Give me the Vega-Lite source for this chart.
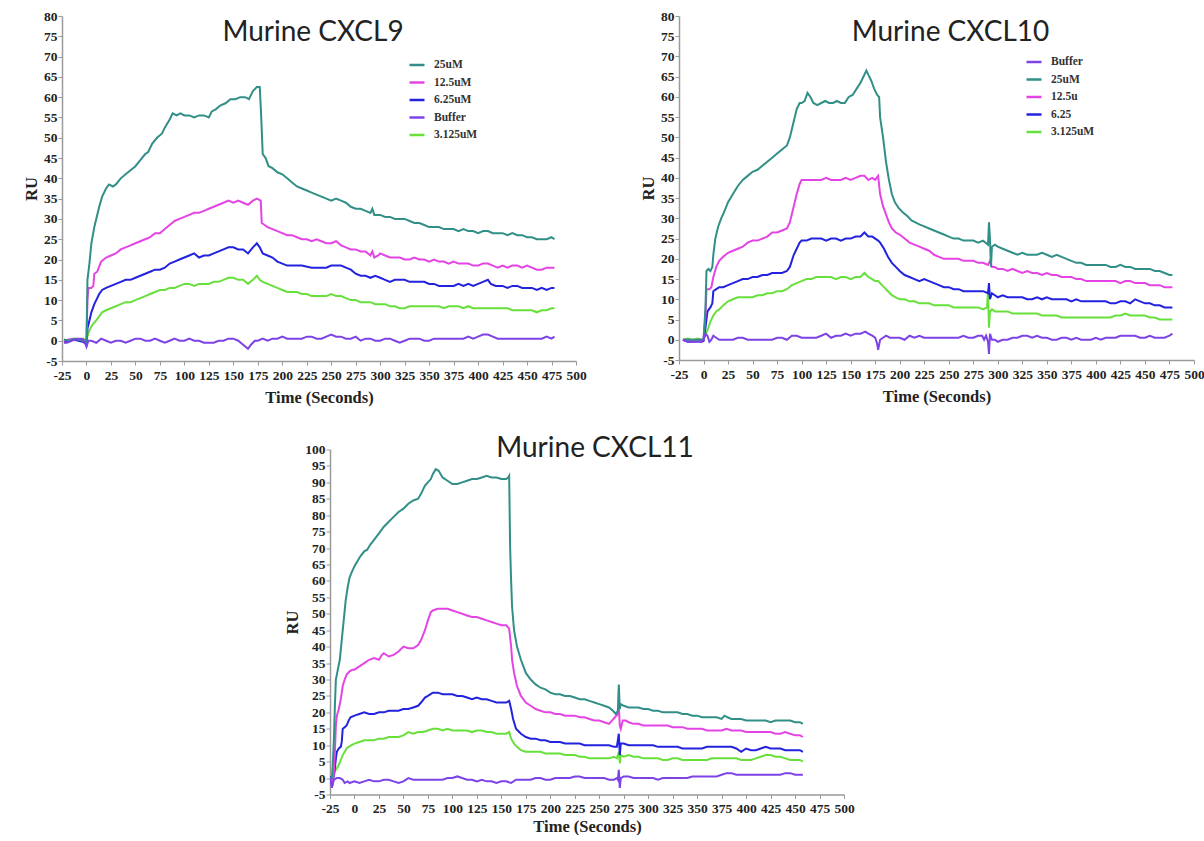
{
"$schema": "https://vega.github.io/schema/vega-lite/v6.json",
"background": "white",
"padding": {"left": 23, "top": 9, "right": 0, "bottom": 0},
"config": {
  "view": {"stroke": null},
  "axis": {"domainColor": "#9a9a9a", "domainWidth": 1.5, "tickColor": "#9a9a9a", "tickSize": 4, "tickWidth": 1, "grid": false,
    "labelFont": "Liberation Serif", "labelFontWeight": "bold", "labelFontSize": 13.5, "labelColor": "#222",
    "titleFont": "Liberation Serif", "titleFontWeight": "bold", "titleFontSize": 16.5, "titleColor": "#222",
    "labelOverlap": false, "labelFlush": false, "labelBound": false, "labelExpr": "'' + datum.value"},
  "axisY": {"labelPadding": 1, "titlePadding": 4},
  "axisX": {"labelPadding": 3, "titlePadding": 8, "labelAngle": 0},
  "title": {"font": "Lato", "fontSize": 28, "fontWeight": "normal", "color": "#222", "anchor": "middle", "frame": "group", "baseline": "alphabetic"},
  "legend": {"orient": "none", "symbolType": "stroke", "symbolSize": 225, "symbolStrokeWidth": 2.5, "labelFont": "Liberation Serif", "labelFontWeight": "bold", "labelFontSize": 11.5, "labelColor": "#333", "rowPadding": 2.5, "labelOffset": 8, "padding": 0}
},
"datasets": {
"c9": [
{"t":-23,"ru":-0.5,"s":"3.125uM"},{"t":-18,"ru":0,"s":"3.125uM"},{"t":-13,"ru":0.5,"s":"3.125uM"},{"t":-10,"ru":0.5,"s":"3.125uM"},{"t":-8,"ru":0,"s":"3.125uM"},{"t":-3,"ru":0.5,"s":"3.125uM"},{"t":0,"ru":0,"s":"3.125uM"},{"t":2,"ru":2,"s":"3.125uM"},{"t":5,"ru":3.5,"s":"3.125uM"},{"t":8,"ru":4.5,"s":"3.125uM"},{"t":10,"ru":5,"s":"3.125uM"},{"t":13,"ru":6,"s":"3.125uM"},{"t":16,"ru":7,"s":"3.125uM"},{"t":20,"ru":7.5,"s":"3.125uM"},{"t":25,"ru":8,"s":"3.125uM"},{"t":30,"ru":8.5,"s":"3.125uM"},{"t":35,"ru":9,"s":"3.125uM"},{"t":40,"ru":9.5,"s":"3.125uM"},{"t":45,"ru":9.5,"s":"3.125uM"},{"t":50,"ru":10,"s":"3.125uM"},{"t":55,"ru":10.5,"s":"3.125uM"},{"t":60,"ru":11,"s":"3.125uM"},{"t":65,"ru":11.5,"s":"3.125uM"},{"t":70,"ru":12,"s":"3.125uM"},{"t":75,"ru":12.5,"s":"3.125uM"},{"t":80,"ru":12.5,"s":"3.125uM"},{"t":85,"ru":13,"s":"3.125uM"},{"t":90,"ru":13,"s":"3.125uM"},{"t":95,"ru":13.5,"s":"3.125uM"},{"t":100,"ru":14,"s":"3.125uM"},{"t":105,"ru":14,"s":"3.125uM"},{"t":110,"ru":13.5,"s":"3.125uM"},{"t":115,"ru":14,"s":"3.125uM"},{"t":120,"ru":14,"s":"3.125uM"},{"t":125,"ru":14,"s":"3.125uM"},{"t":130,"ru":14.5,"s":"3.125uM"},{"t":135,"ru":14.5,"s":"3.125uM"},{"t":140,"ru":15,"s":"3.125uM"},{"t":145,"ru":15.5,"s":"3.125uM"},{"t":150,"ru":15.5,"s":"3.125uM"},{"t":155,"ru":15,"s":"3.125uM"},{"t":160,"ru":15,"s":"3.125uM"},{"t":165,"ru":14,"s":"3.125uM"},{"t":170,"ru":15,"s":"3.125uM"},{"t":174,"ru":16,"s":"3.125uM"},{"t":177,"ru":15,"s":"3.125uM"},{"t":180,"ru":14.5,"s":"3.125uM"},{"t":185,"ru":14,"s":"3.125uM"},{"t":190,"ru":13.5,"s":"3.125uM"},{"t":195,"ru":13,"s":"3.125uM"},{"t":200,"ru":12.5,"s":"3.125uM"},{"t":205,"ru":12,"s":"3.125uM"},{"t":210,"ru":12,"s":"3.125uM"},{"t":215,"ru":12,"s":"3.125uM"},{"t":220,"ru":11.5,"s":"3.125uM"},{"t":225,"ru":11.5,"s":"3.125uM"},{"t":230,"ru":11,"s":"3.125uM"},{"t":235,"ru":11,"s":"3.125uM"},{"t":240,"ru":11,"s":"3.125uM"},{"t":245,"ru":11,"s":"3.125uM"},{"t":250,"ru":11.5,"s":"3.125uM"},{"t":255,"ru":11,"s":"3.125uM"},{"t":260,"ru":11,"s":"3.125uM"},{"t":265,"ru":10.5,"s":"3.125uM"},{"t":270,"ru":10,"s":"3.125uM"},{"t":275,"ru":10,"s":"3.125uM"},{"t":280,"ru":9.5,"s":"3.125uM"},{"t":285,"ru":9.5,"s":"3.125uM"},{"t":290,"ru":9.5,"s":"3.125uM"},{"t":295,"ru":9,"s":"3.125uM"},{"t":300,"ru":9,"s":"3.125uM"},{"t":305,"ru":9,"s":"3.125uM"},{"t":310,"ru":8.5,"s":"3.125uM"},{"t":315,"ru":8.5,"s":"3.125uM"},{"t":320,"ru":8,"s":"3.125uM"},{"t":325,"ru":8,"s":"3.125uM"},{"t":330,"ru":8.5,"s":"3.125uM"},{"t":335,"ru":8.5,"s":"3.125uM"},{"t":340,"ru":8.5,"s":"3.125uM"},{"t":345,"ru":8.5,"s":"3.125uM"},{"t":350,"ru":8.5,"s":"3.125uM"},{"t":355,"ru":8.5,"s":"3.125uM"},{"t":360,"ru":8.5,"s":"3.125uM"},{"t":365,"ru":8,"s":"3.125uM"},{"t":370,"ru":8.5,"s":"3.125uM"},{"t":375,"ru":8.5,"s":"3.125uM"},{"t":380,"ru":8.5,"s":"3.125uM"},{"t":385,"ru":8,"s":"3.125uM"},{"t":390,"ru":8.5,"s":"3.125uM"},{"t":395,"ru":8,"s":"3.125uM"},{"t":400,"ru":8,"s":"3.125uM"},{"t":410,"ru":8,"s":"3.125uM"},{"t":420,"ru":8,"s":"3.125uM"},{"t":430,"ru":8,"s":"3.125uM"},{"t":435,"ru":7.5,"s":"3.125uM"},{"t":440,"ru":7.5,"s":"3.125uM"},{"t":450,"ru":7.5,"s":"3.125uM"},{"t":455,"ru":7.5,"s":"3.125uM"},{"t":460,"ru":7,"s":"3.125uM"},{"t":465,"ru":7.5,"s":"3.125uM"},{"t":470,"ru":7.5,"s":"3.125uM"},{"t":475,"ru":8,"s":"3.125uM"},{"t":478,"ru":8,"s":"3.125uM"},

{"t":-23,"ru":-0.3,"s":"6.25uM"},{"t":-18,"ru":0,"s":"6.25uM"},{"t":-13,"ru":0.3,"s":"6.25uM"},{"t":-8,"ru":0,"s":"6.25uM"},{"t":-3,"ru":-0.3,"s":"6.25uM"},{"t":0,"ru":-1,"s":"6.25uM"},{"t":1,"ru":3,"s":"6.25uM"},{"t":3,"ru":5,"s":"6.25uM"},{"t":5,"ru":7,"s":"6.25uM"},{"t":8,"ru":9,"s":"6.25uM"},{"t":10,"ru":10,"s":"6.25uM"},{"t":13,"ru":11.5,"s":"6.25uM"},{"t":16,"ru":12.5,"s":"6.25uM"},{"t":20,"ru":13,"s":"6.25uM"},{"t":25,"ru":13.5,"s":"6.25uM"},{"t":30,"ru":14,"s":"6.25uM"},{"t":35,"ru":14.5,"s":"6.25uM"},{"t":40,"ru":15,"s":"6.25uM"},{"t":45,"ru":15,"s":"6.25uM"},{"t":50,"ru":15.5,"s":"6.25uM"},{"t":55,"ru":16,"s":"6.25uM"},{"t":60,"ru":16.5,"s":"6.25uM"},{"t":65,"ru":17,"s":"6.25uM"},{"t":70,"ru":17.5,"s":"6.25uM"},{"t":75,"ru":17.5,"s":"6.25uM"},{"t":80,"ru":18,"s":"6.25uM"},{"t":85,"ru":19,"s":"6.25uM"},{"t":90,"ru":19.5,"s":"6.25uM"},{"t":95,"ru":20,"s":"6.25uM"},{"t":100,"ru":20.5,"s":"6.25uM"},{"t":105,"ru":21,"s":"6.25uM"},{"t":110,"ru":21.5,"s":"6.25uM"},{"t":115,"ru":20.5,"s":"6.25uM"},{"t":120,"ru":21,"s":"6.25uM"},{"t":125,"ru":21,"s":"6.25uM"},{"t":130,"ru":21.5,"s":"6.25uM"},{"t":135,"ru":22,"s":"6.25uM"},{"t":140,"ru":22.5,"s":"6.25uM"},{"t":145,"ru":23,"s":"6.25uM"},{"t":150,"ru":23,"s":"6.25uM"},{"t":155,"ru":22.5,"s":"6.25uM"},{"t":160,"ru":22.5,"s":"6.25uM"},{"t":165,"ru":21.5,"s":"6.25uM"},{"t":170,"ru":23,"s":"6.25uM"},{"t":174,"ru":24,"s":"6.25uM"},{"t":177,"ru":23,"s":"6.25uM"},{"t":180,"ru":21.5,"s":"6.25uM"},{"t":185,"ru":21,"s":"6.25uM"},{"t":190,"ru":20.5,"s":"6.25uM"},{"t":195,"ru":19.5,"s":"6.25uM"},{"t":200,"ru":19,"s":"6.25uM"},{"t":205,"ru":18.5,"s":"6.25uM"},{"t":210,"ru":18.5,"s":"6.25uM"},{"t":220,"ru":18.5,"s":"6.25uM"},{"t":230,"ru":18,"s":"6.25uM"},{"t":240,"ru":18,"s":"6.25uM"},{"t":245,"ru":18,"s":"6.25uM"},{"t":250,"ru":18.5,"s":"6.25uM"},{"t":255,"ru":18.5,"s":"6.25uM"},{"t":260,"ru":18.5,"s":"6.25uM"},{"t":265,"ru":18,"s":"6.25uM"},{"t":270,"ru":17.5,"s":"6.25uM"},{"t":275,"ru":16.5,"s":"6.25uM"},{"t":280,"ru":16,"s":"6.25uM"},{"t":285,"ru":16,"s":"6.25uM"},{"t":290,"ru":15.5,"s":"6.25uM"},{"t":295,"ru":16,"s":"6.25uM"},{"t":300,"ru":15.5,"s":"6.25uM"},{"t":305,"ru":15,"s":"6.25uM"},{"t":310,"ru":14.5,"s":"6.25uM"},{"t":315,"ru":15,"s":"6.25uM"},{"t":325,"ru":15,"s":"6.25uM"},{"t":330,"ru":14.5,"s":"6.25uM"},{"t":345,"ru":14.5,"s":"6.25uM"},{"t":350,"ru":14,"s":"6.25uM"},{"t":355,"ru":14,"s":"6.25uM"},{"t":360,"ru":13.5,"s":"6.25uM"},{"t":375,"ru":13.5,"s":"6.25uM"},{"t":380,"ru":14,"s":"6.25uM"},{"t":385,"ru":13.5,"s":"6.25uM"},{"t":390,"ru":14,"s":"6.25uM"},{"t":395,"ru":13.5,"s":"6.25uM"},{"t":400,"ru":14,"s":"6.25uM"},{"t":405,"ru":14.5,"s":"6.25uM"},{"t":410,"ru":15,"s":"6.25uM"},{"t":413,"ru":14,"s":"6.25uM"},{"t":418,"ru":13.5,"s":"6.25uM"},{"t":425,"ru":13.5,"s":"6.25uM"},{"t":430,"ru":13,"s":"6.25uM"},{"t":435,"ru":13.5,"s":"6.25uM"},{"t":440,"ru":13.5,"s":"6.25uM"},{"t":445,"ru":13,"s":"6.25uM"},{"t":455,"ru":13,"s":"6.25uM"},{"t":460,"ru":12.5,"s":"6.25uM"},{"t":465,"ru":13,"s":"6.25uM"},{"t":470,"ru":12.5,"s":"6.25uM"},{"t":475,"ru":13,"s":"6.25uM"},{"t":478,"ru":13,"s":"6.25uM"},

{"t":-23,"ru":0,"s":"12.5uM"},{"t":-18,"ru":0.3,"s":"12.5uM"},{"t":-13,"ru":0.5,"s":"12.5uM"},{"t":-8,"ru":0.3,"s":"12.5uM"},{"t":-3,"ru":0,"s":"12.5uM"},{"t":0,"ru":0,"s":"12.5uM"},{"t":1,"ru":10,"s":"12.5uM"},{"t":2,"ru":13,"s":"12.5uM"},{"t":5,"ru":13,"s":"12.5uM"},{"t":7,"ru":13.5,"s":"12.5uM"},{"t":8,"ru":16.5,"s":"12.5uM"},{"t":11,"ru":17,"s":"12.5uM"},{"t":15,"ru":19.5,"s":"12.5uM"},{"t":20,"ru":20.5,"s":"12.5uM"},{"t":25,"ru":21,"s":"12.5uM"},{"t":30,"ru":21.5,"s":"12.5uM"},{"t":35,"ru":22.5,"s":"12.5uM"},{"t":40,"ru":23,"s":"12.5uM"},{"t":45,"ru":23.5,"s":"12.5uM"},{"t":50,"ru":24,"s":"12.5uM"},{"t":55,"ru":24.5,"s":"12.5uM"},{"t":60,"ru":25,"s":"12.5uM"},{"t":65,"ru":25.5,"s":"12.5uM"},{"t":70,"ru":26.5,"s":"12.5uM"},{"t":75,"ru":26.5,"s":"12.5uM"},{"t":80,"ru":27.5,"s":"12.5uM"},{"t":85,"ru":28.5,"s":"12.5uM"},{"t":90,"ru":29.5,"s":"12.5uM"},{"t":95,"ru":30,"s":"12.5uM"},{"t":100,"ru":30.5,"s":"12.5uM"},{"t":105,"ru":31,"s":"12.5uM"},{"t":110,"ru":31.5,"s":"12.5uM"},{"t":115,"ru":31.5,"s":"12.5uM"},{"t":120,"ru":32,"s":"12.5uM"},{"t":125,"ru":32.5,"s":"12.5uM"},{"t":130,"ru":33,"s":"12.5uM"},{"t":135,"ru":33.5,"s":"12.5uM"},{"t":140,"ru":34,"s":"12.5uM"},{"t":145,"ru":34.5,"s":"12.5uM"},{"t":150,"ru":34,"s":"12.5uM"},{"t":155,"ru":34.5,"s":"12.5uM"},{"t":160,"ru":34,"s":"12.5uM"},{"t":165,"ru":33.5,"s":"12.5uM"},{"t":170,"ru":34.5,"s":"12.5uM"},{"t":174,"ru":35,"s":"12.5uM"},{"t":178,"ru":34.5,"s":"12.5uM"},{"t":179,"ru":29,"s":"12.5uM"},{"t":182,"ru":28.5,"s":"12.5uM"},{"t":185,"ru":28,"s":"12.5uM"},{"t":190,"ru":27.5,"s":"12.5uM"},{"t":195,"ru":27,"s":"12.5uM"},{"t":200,"ru":26.5,"s":"12.5uM"},{"t":205,"ru":26,"s":"12.5uM"},{"t":210,"ru":26,"s":"12.5uM"},{"t":215,"ru":25.5,"s":"12.5uM"},{"t":220,"ru":25,"s":"12.5uM"},{"t":225,"ru":25,"s":"12.5uM"},{"t":230,"ru":24.5,"s":"12.5uM"},{"t":235,"ru":25,"s":"12.5uM"},{"t":240,"ru":24.5,"s":"12.5uM"},{"t":245,"ru":24,"s":"12.5uM"},{"t":250,"ru":24,"s":"12.5uM"},{"t":255,"ru":24.5,"s":"12.5uM"},{"t":260,"ru":23.5,"s":"12.5uM"},{"t":265,"ru":23,"s":"12.5uM"},{"t":270,"ru":22.5,"s":"12.5uM"},{"t":275,"ru":22.5,"s":"12.5uM"},{"t":280,"ru":22,"s":"12.5uM"},{"t":285,"ru":22,"s":"12.5uM"},{"t":290,"ru":21,"s":"12.5uM"},{"t":292,"ru":22,"s":"12.5uM"},{"t":294,"ru":20.5,"s":"12.5uM"},{"t":298,"ru":21,"s":"12.5uM"},{"t":300,"ru":21.5,"s":"12.5uM"},{"t":305,"ru":21,"s":"12.5uM"},{"t":310,"ru":20.5,"s":"12.5uM"},{"t":320,"ru":20.5,"s":"12.5uM"},{"t":325,"ru":20,"s":"12.5uM"},{"t":330,"ru":20,"s":"12.5uM"},{"t":335,"ru":20.5,"s":"12.5uM"},{"t":340,"ru":20,"s":"12.5uM"},{"t":345,"ru":20,"s":"12.5uM"},{"t":350,"ru":19.5,"s":"12.5uM"},{"t":355,"ru":20,"s":"12.5uM"},{"t":360,"ru":19.5,"s":"12.5uM"},{"t":365,"ru":19.5,"s":"12.5uM"},{"t":370,"ru":19,"s":"12.5uM"},{"t":375,"ru":19.5,"s":"12.5uM"},{"t":380,"ru":19,"s":"12.5uM"},{"t":390,"ru":19,"s":"12.5uM"},{"t":395,"ru":18.5,"s":"12.5uM"},{"t":400,"ru":18.5,"s":"12.5uM"},{"t":405,"ru":19,"s":"12.5uM"},{"t":410,"ru":19,"s":"12.5uM"},{"t":415,"ru":18.5,"s":"12.5uM"},{"t":420,"ru":18,"s":"12.5uM"},{"t":425,"ru":18.5,"s":"12.5uM"},{"t":430,"ru":18,"s":"12.5uM"},{"t":435,"ru":18.5,"s":"12.5uM"},{"t":440,"ru":18.5,"s":"12.5uM"},{"t":445,"ru":18,"s":"12.5uM"},{"t":450,"ru":18.5,"s":"12.5uM"},{"t":455,"ru":18,"s":"12.5uM"},{"t":460,"ru":17.5,"s":"12.5uM"},{"t":465,"ru":17.5,"s":"12.5uM"},{"t":470,"ru":18,"s":"12.5uM"},{"t":478,"ru":18,"s":"12.5uM"},

{"t":-23,"ru":0.3,"s":"25uM"},{"t":-18,"ru":0,"s":"25uM"},{"t":-13,"ru":0.5,"s":"25uM"},{"t":-8,"ru":0.3,"s":"25uM"},{"t":-3,"ru":0,"s":"25uM"},{"t":0,"ru":-0.5,"s":"25uM"},{"t":1,"ru":15,"s":"25uM"},{"t":3,"ru":19,"s":"25uM"},{"t":5,"ru":24,"s":"25uM"},{"t":8,"ru":28,"s":"25uM"},{"t":10,"ru":30,"s":"25uM"},{"t":13,"ru":33,"s":"25uM"},{"t":16,"ru":35.5,"s":"25uM"},{"t":20,"ru":37.5,"s":"25uM"},{"t":23,"ru":38.5,"s":"25uM"},{"t":27,"ru":38,"s":"25uM"},{"t":30,"ru":38.5,"s":"25uM"},{"t":35,"ru":40,"s":"25uM"},{"t":40,"ru":41,"s":"25uM"},{"t":45,"ru":42,"s":"25uM"},{"t":50,"ru":43,"s":"25uM"},{"t":55,"ru":44.5,"s":"25uM"},{"t":60,"ru":46,"s":"25uM"},{"t":63,"ru":46.5,"s":"25uM"},{"t":67,"ru":48.5,"s":"25uM"},{"t":72,"ru":50,"s":"25uM"},{"t":77,"ru":51,"s":"25uM"},{"t":80,"ru":52.5,"s":"25uM"},{"t":85,"ru":54.5,"s":"25uM"},{"t":88,"ru":56,"s":"25uM"},{"t":92,"ru":55.5,"s":"25uM"},{"t":96,"ru":56,"s":"25uM"},{"t":100,"ru":55.5,"s":"25uM"},{"t":105,"ru":55.5,"s":"25uM"},{"t":110,"ru":55,"s":"25uM"},{"t":115,"ru":55.5,"s":"25uM"},{"t":120,"ru":55.5,"s":"25uM"},{"t":125,"ru":55,"s":"25uM"},{"t":128,"ru":56.5,"s":"25uM"},{"t":132,"ru":57,"s":"25uM"},{"t":137,"ru":58,"s":"25uM"},{"t":142,"ru":58.5,"s":"25uM"},{"t":147,"ru":59.5,"s":"25uM"},{"t":152,"ru":59.5,"s":"25uM"},{"t":157,"ru":60,"s":"25uM"},{"t":162,"ru":60,"s":"25uM"},{"t":166,"ru":59.5,"s":"25uM"},{"t":170,"ru":61.5,"s":"25uM"},{"t":174,"ru":62.5,"s":"25uM"},{"t":177,"ru":62.5,"s":"25uM"},{"t":178.5,"ru":55,"s":"25uM"},{"t":180,"ru":46,"s":"25uM"},{"t":183,"ru":45,"s":"25uM"},{"t":186,"ru":43,"s":"25uM"},{"t":190,"ru":42.5,"s":"25uM"},{"t":195,"ru":41.5,"s":"25uM"},{"t":200,"ru":41,"s":"25uM"},{"t":205,"ru":40,"s":"25uM"},{"t":210,"ru":39,"s":"25uM"},{"t":215,"ru":38,"s":"25uM"},{"t":220,"ru":37.5,"s":"25uM"},{"t":225,"ru":37,"s":"25uM"},{"t":230,"ru":36.5,"s":"25uM"},{"t":235,"ru":36,"s":"25uM"},{"t":240,"ru":35.5,"s":"25uM"},{"t":245,"ru":35,"s":"25uM"},{"t":250,"ru":34.5,"s":"25uM"},{"t":255,"ru":35,"s":"25uM"},{"t":260,"ru":34.5,"s":"25uM"},{"t":265,"ru":34,"s":"25uM"},{"t":270,"ru":33,"s":"25uM"},{"t":275,"ru":32.5,"s":"25uM"},{"t":280,"ru":32.5,"s":"25uM"},{"t":285,"ru":32,"s":"25uM"},{"t":290,"ru":31.5,"s":"25uM"},{"t":292,"ru":32.5,"s":"25uM"},{"t":294,"ru":31,"s":"25uM"},{"t":300,"ru":31,"s":"25uM"},{"t":305,"ru":30.5,"s":"25uM"},{"t":310,"ru":30.5,"s":"25uM"},{"t":315,"ru":30,"s":"25uM"},{"t":325,"ru":30,"s":"25uM"},{"t":330,"ru":29.5,"s":"25uM"},{"t":335,"ru":29,"s":"25uM"},{"t":340,"ru":29,"s":"25uM"},{"t":345,"ru":28.5,"s":"25uM"},{"t":350,"ru":28,"s":"25uM"},{"t":360,"ru":28,"s":"25uM"},{"t":365,"ru":27.5,"s":"25uM"},{"t":375,"ru":27.5,"s":"25uM"},{"t":380,"ru":27,"s":"25uM"},{"t":385,"ru":27.5,"s":"25uM"},{"t":390,"ru":27,"s":"25uM"},{"t":395,"ru":27,"s":"25uM"},{"t":400,"ru":26.5,"s":"25uM"},{"t":405,"ru":27,"s":"25uM"},{"t":410,"ru":27,"s":"25uM"},{"t":415,"ru":26.5,"s":"25uM"},{"t":425,"ru":26.5,"s":"25uM"},{"t":430,"ru":26,"s":"25uM"},{"t":435,"ru":26.5,"s":"25uM"},{"t":440,"ru":26,"s":"25uM"},{"t":445,"ru":26,"s":"25uM"},{"t":450,"ru":25.5,"s":"25uM"},{"t":455,"ru":25.5,"s":"25uM"},{"t":460,"ru":25,"s":"25uM"},{"t":470,"ru":25,"s":"25uM"},{"t":475,"ru":25.5,"s":"25uM"},{"t":478,"ru":25,"s":"25uM"},

{"t":-23,"ru":-0.5,"s":"Buffer"},{"t":-20,"ru":-0.5,"s":"Buffer"},{"t":-15,"ru":0,"s":"Buffer"},{"t":-10,"ru":0.5,"s":"Buffer"},{"t":-5,"ru":0.5,"s":"Buffer"},{"t":-2,"ru":0,"s":"Buffer"},{"t":0,"ru":-1.5,"s":"Buffer"},{"t":2,"ru":0,"s":"Buffer"},{"t":5,"ru":0,"s":"Buffer"},{"t":10,"ru":-0.5,"s":"Buffer"},{"t":15,"ru":0.5,"s":"Buffer"},{"t":20,"ru":0,"s":"Buffer"},{"t":25,"ru":-0.5,"s":"Buffer"},{"t":30,"ru":0,"s":"Buffer"},{"t":35,"ru":0,"s":"Buffer"},{"t":40,"ru":-0.5,"s":"Buffer"},{"t":45,"ru":0,"s":"Buffer"},{"t":50,"ru":0.5,"s":"Buffer"},{"t":55,"ru":0.5,"s":"Buffer"},{"t":60,"ru":0,"s":"Buffer"},{"t":65,"ru":0,"s":"Buffer"},{"t":70,"ru":0.5,"s":"Buffer"},{"t":75,"ru":0,"s":"Buffer"},{"t":80,"ru":-0.5,"s":"Buffer"},{"t":85,"ru":0,"s":"Buffer"},{"t":90,"ru":0.5,"s":"Buffer"},{"t":95,"ru":0,"s":"Buffer"},{"t":100,"ru":0,"s":"Buffer"},{"t":105,"ru":0.5,"s":"Buffer"},{"t":110,"ru":0,"s":"Buffer"},{"t":115,"ru":0,"s":"Buffer"},{"t":120,"ru":-0.5,"s":"Buffer"},{"t":125,"ru":-0.5,"s":"Buffer"},{"t":130,"ru":-0.5,"s":"Buffer"},{"t":135,"ru":0,"s":"Buffer"},{"t":140,"ru":0,"s":"Buffer"},{"t":145,"ru":0.5,"s":"Buffer"},{"t":150,"ru":0.5,"s":"Buffer"},{"t":155,"ru":0,"s":"Buffer"},{"t":160,"ru":-1,"s":"Buffer"},{"t":165,"ru":-2,"s":"Buffer"},{"t":168,"ru":-1,"s":"Buffer"},{"t":172,"ru":0,"s":"Buffer"},{"t":175,"ru":0,"s":"Buffer"},{"t":180,"ru":0.5,"s":"Buffer"},{"t":185,"ru":0,"s":"Buffer"},{"t":190,"ru":0.5,"s":"Buffer"},{"t":195,"ru":0.5,"s":"Buffer"},{"t":200,"ru":1,"s":"Buffer"},{"t":205,"ru":0.5,"s":"Buffer"},{"t":220,"ru":0.5,"s":"Buffer"},{"t":225,"ru":1,"s":"Buffer"},{"t":230,"ru":1,"s":"Buffer"},{"t":235,"ru":0.5,"s":"Buffer"},{"t":240,"ru":0.5,"s":"Buffer"},{"t":245,"ru":1,"s":"Buffer"},{"t":250,"ru":1.5,"s":"Buffer"},{"t":255,"ru":1,"s":"Buffer"},{"t":260,"ru":1,"s":"Buffer"},{"t":265,"ru":0.5,"s":"Buffer"},{"t":270,"ru":0.5,"s":"Buffer"},{"t":275,"ru":1,"s":"Buffer"},{"t":280,"ru":0,"s":"Buffer"},{"t":285,"ru":0.5,"s":"Buffer"},{"t":290,"ru":0.5,"s":"Buffer"},{"t":295,"ru":0,"s":"Buffer"},{"t":300,"ru":0,"s":"Buffer"},{"t":305,"ru":0.5,"s":"Buffer"},{"t":310,"ru":0.5,"s":"Buffer"},{"t":315,"ru":0,"s":"Buffer"},{"t":320,"ru":-0.5,"s":"Buffer"},{"t":325,"ru":0,"s":"Buffer"},{"t":330,"ru":0.5,"s":"Buffer"},{"t":340,"ru":0.5,"s":"Buffer"},{"t":345,"ru":0,"s":"Buffer"},{"t":350,"ru":0,"s":"Buffer"},{"t":355,"ru":0.5,"s":"Buffer"},{"t":385,"ru":0.5,"s":"Buffer"},{"t":390,"ru":1,"s":"Buffer"},{"t":395,"ru":0.5,"s":"Buffer"},{"t":400,"ru":1,"s":"Buffer"},{"t":405,"ru":1.5,"s":"Buffer"},{"t":410,"ru":1.5,"s":"Buffer"},{"t":415,"ru":1,"s":"Buffer"},{"t":420,"ru":0.5,"s":"Buffer"},{"t":465,"ru":0.5,"s":"Buffer"},{"t":470,"ru":1,"s":"Buffer"},{"t":475,"ru":0.5,"s":"Buffer"},{"t":478,"ru":1,"s":"Buffer"}
],
"c10": [
{"t":-21,"ru":0,"s":"3.125uM"},{"t":-16,"ru":0.3,"s":"3.125uM"},{"t":-11,"ru":0,"s":"3.125uM"},{"t":-6,"ru":0.3,"s":"3.125uM"},{"t":-2,"ru":0,"s":"3.125uM"},{"t":0,"ru":0,"s":"3.125uM"},{"t":5,"ru":3,"s":"3.125uM"},{"t":7,"ru":4.5,"s":"3.125uM"},{"t":10,"ru":6,"s":"3.125uM"},{"t":13,"ru":7,"s":"3.125uM"},{"t":16,"ru":7.5,"s":"3.125uM"},{"t":20,"ru":8.5,"s":"3.125uM"},{"t":25,"ru":9.5,"s":"3.125uM"},{"t":30,"ru":10,"s":"3.125uM"},{"t":35,"ru":10.5,"s":"3.125uM"},{"t":50,"ru":10.5,"s":"3.125uM"},{"t":55,"ru":11,"s":"3.125uM"},{"t":60,"ru":11,"s":"3.125uM"},{"t":65,"ru":11.5,"s":"3.125uM"},{"t":70,"ru":11.5,"s":"3.125uM"},{"t":75,"ru":12,"s":"3.125uM"},{"t":80,"ru":12,"s":"3.125uM"},{"t":85,"ru":12.5,"s":"3.125uM"},{"t":90,"ru":13.5,"s":"3.125uM"},{"t":95,"ru":14,"s":"3.125uM"},{"t":100,"ru":14.5,"s":"3.125uM"},{"t":105,"ru":15,"s":"3.125uM"},{"t":110,"ru":15,"s":"3.125uM"},{"t":115,"ru":15.5,"s":"3.125uM"},{"t":130,"ru":15.5,"s":"3.125uM"},{"t":135,"ru":15,"s":"3.125uM"},{"t":140,"ru":15.5,"s":"3.125uM"},{"t":145,"ru":15.5,"s":"3.125uM"},{"t":150,"ru":15,"s":"3.125uM"},{"t":155,"ru":15.5,"s":"3.125uM"},{"t":160,"ru":15.5,"s":"3.125uM"},{"t":164,"ru":16.5,"s":"3.125uM"},{"t":168,"ru":15.5,"s":"3.125uM"},{"t":172,"ru":15,"s":"3.125uM"},{"t":175,"ru":14.5,"s":"3.125uM"},{"t":178,"ru":14.5,"s":"3.125uM"},{"t":180,"ru":14,"s":"3.125uM"},{"t":184,"ru":13,"s":"3.125uM"},{"t":188,"ru":12,"s":"3.125uM"},{"t":192,"ru":11,"s":"3.125uM"},{"t":196,"ru":10.5,"s":"3.125uM"},{"t":200,"ru":10,"s":"3.125uM"},{"t":205,"ru":10,"s":"3.125uM"},{"t":210,"ru":9.5,"s":"3.125uM"},{"t":215,"ru":9.5,"s":"3.125uM"},{"t":220,"ru":9,"s":"3.125uM"},{"t":230,"ru":9,"s":"3.125uM"},{"t":235,"ru":8.5,"s":"3.125uM"},{"t":250,"ru":8.5,"s":"3.125uM"},{"t":255,"ru":8,"s":"3.125uM"},{"t":280,"ru":8,"s":"3.125uM"},{"t":285,"ru":7.5,"s":"3.125uM"},{"t":289,"ru":8,"s":"3.125uM"},{"t":290,"ru":12,"s":"3.125uM"},{"t":291,"ru":3,"s":"3.125uM"},{"t":292,"ru":7,"s":"3.125uM"},{"t":294,"ru":7.5,"s":"3.125uM"},{"t":297,"ru":7,"s":"3.125uM"},{"t":310,"ru":7,"s":"3.125uM"},{"t":315,"ru":6.5,"s":"3.125uM"},{"t":340,"ru":6.5,"s":"3.125uM"},{"t":345,"ru":6,"s":"3.125uM"},{"t":360,"ru":6,"s":"3.125uM"},{"t":365,"ru":5.5,"s":"3.125uM"},{"t":415,"ru":5.5,"s":"3.125uM"},{"t":420,"ru":6,"s":"3.125uM"},{"t":425,"ru":6,"s":"3.125uM"},{"t":430,"ru":6.5,"s":"3.125uM"},{"t":435,"ru":6,"s":"3.125uM"},{"t":450,"ru":6,"s":"3.125uM"},{"t":455,"ru":5.5,"s":"3.125uM"},{"t":460,"ru":5.5,"s":"3.125uM"},{"t":465,"ru":5,"s":"3.125uM"},{"t":478,"ru":5,"s":"3.125uM"},

{"t":-21,"ru":0,"s":"6.25"},{"t":-16,"ru":-0.5,"s":"6.25"},{"t":-11,"ru":-0.5,"s":"6.25"},{"t":-6,"ru":-0.3,"s":"6.25"},{"t":-2,"ru":-0.5,"s":"6.25"},{"t":0,"ru":-0.3,"s":"6.25"},{"t":2,"ru":3,"s":"6.25"},{"t":4,"ru":7,"s":"6.25"},{"t":7,"ru":8,"s":"6.25"},{"t":9,"ru":9,"s":"6.25"},{"t":10,"ru":12,"s":"6.25"},{"t":13,"ru":12.5,"s":"6.25"},{"t":16,"ru":13,"s":"6.25"},{"t":20,"ru":13,"s":"6.25"},{"t":25,"ru":13.5,"s":"6.25"},{"t":30,"ru":14,"s":"6.25"},{"t":35,"ru":14.5,"s":"6.25"},{"t":40,"ru":15,"s":"6.25"},{"t":45,"ru":15,"s":"6.25"},{"t":50,"ru":15.5,"s":"6.25"},{"t":55,"ru":15.5,"s":"6.25"},{"t":60,"ru":16,"s":"6.25"},{"t":65,"ru":16,"s":"6.25"},{"t":70,"ru":16.5,"s":"6.25"},{"t":80,"ru":16.5,"s":"6.25"},{"t":85,"ru":17,"s":"6.25"},{"t":88,"ru":18,"s":"6.25"},{"t":92,"ru":21,"s":"6.25"},{"t":95,"ru":22.5,"s":"6.25"},{"t":98,"ru":24,"s":"6.25"},{"t":100,"ru":24.5,"s":"6.25"},{"t":105,"ru":24.5,"s":"6.25"},{"t":110,"ru":25,"s":"6.25"},{"t":120,"ru":25,"s":"6.25"},{"t":125,"ru":24.5,"s":"6.25"},{"t":130,"ru":25,"s":"6.25"},{"t":135,"ru":25,"s":"6.25"},{"t":140,"ru":24.5,"s":"6.25"},{"t":145,"ru":25,"s":"6.25"},{"t":150,"ru":25,"s":"6.25"},{"t":155,"ru":25.5,"s":"6.25"},{"t":160,"ru":25.5,"s":"6.25"},{"t":164,"ru":26.5,"s":"6.25"},{"t":168,"ru":25.5,"s":"6.25"},{"t":172,"ru":25.5,"s":"6.25"},{"t":175,"ru":25,"s":"6.25"},{"t":178,"ru":24.5,"s":"6.25"},{"t":180,"ru":24,"s":"6.25"},{"t":184,"ru":22.5,"s":"6.25"},{"t":188,"ru":20.5,"s":"6.25"},{"t":192,"ru":19,"s":"6.25"},{"t":196,"ru":18,"s":"6.25"},{"t":200,"ru":17,"s":"6.25"},{"t":205,"ru":16,"s":"6.25"},{"t":210,"ru":15.5,"s":"6.25"},{"t":215,"ru":15,"s":"6.25"},{"t":220,"ru":14.5,"s":"6.25"},{"t":225,"ru":15,"s":"6.25"},{"t":230,"ru":14.5,"s":"6.25"},{"t":235,"ru":14,"s":"6.25"},{"t":240,"ru":13.5,"s":"6.25"},{"t":245,"ru":13,"s":"6.25"},{"t":250,"ru":13,"s":"6.25"},{"t":255,"ru":12.5,"s":"6.25"},{"t":260,"ru":12.5,"s":"6.25"},{"t":265,"ru":12,"s":"6.25"},{"t":285,"ru":12,"s":"6.25"},{"t":290,"ru":11.5,"s":"6.25"},{"t":291,"ru":14,"s":"6.25"},{"t":292,"ru":10,"s":"6.25"},{"t":294,"ru":11.5,"s":"6.25"},{"t":297,"ru":11,"s":"6.25"},{"t":300,"ru":10.5,"s":"6.25"},{"t":305,"ru":11,"s":"6.25"},{"t":310,"ru":10.5,"s":"6.25"},{"t":325,"ru":10.5,"s":"6.25"},{"t":330,"ru":10,"s":"6.25"},{"t":335,"ru":10,"s":"6.25"},{"t":340,"ru":10.5,"s":"6.25"},{"t":345,"ru":10,"s":"6.25"},{"t":350,"ru":10.5,"s":"6.25"},{"t":355,"ru":10,"s":"6.25"},{"t":370,"ru":10,"s":"6.25"},{"t":375,"ru":9.5,"s":"6.25"},{"t":380,"ru":10,"s":"6.25"},{"t":385,"ru":9.5,"s":"6.25"},{"t":410,"ru":9.5,"s":"6.25"},{"t":415,"ru":9,"s":"6.25"},{"t":420,"ru":9,"s":"6.25"},{"t":425,"ru":9.5,"s":"6.25"},{"t":430,"ru":9.5,"s":"6.25"},{"t":435,"ru":9,"s":"6.25"},{"t":440,"ru":10,"s":"6.25"},{"t":445,"ru":9.5,"s":"6.25"},{"t":450,"ru":9,"s":"6.25"},{"t":455,"ru":9,"s":"6.25"},{"t":460,"ru":8.5,"s":"6.25"},{"t":465,"ru":8.5,"s":"6.25"},{"t":470,"ru":8,"s":"6.25"},{"t":478,"ru":8,"s":"6.25"},

{"t":-21,"ru":0,"s":"12.5u"},{"t":-16,"ru":0,"s":"12.5u"},{"t":-11,"ru":-0.5,"s":"12.5u"},{"t":-6,"ru":0,"s":"12.5u"},{"t":0,"ru":0,"s":"12.5u"},{"t":2,"ru":6,"s":"12.5u"},{"t":3,"ru":12.5,"s":"12.5u"},{"t":6,"ru":12.5,"s":"12.5u"},{"t":8,"ru":13,"s":"12.5u"},{"t":10,"ru":15.5,"s":"12.5u"},{"t":13,"ru":18,"s":"12.5u"},{"t":16,"ru":19.5,"s":"12.5u"},{"t":20,"ru":20.5,"s":"12.5u"},{"t":25,"ru":21.5,"s":"12.5u"},{"t":30,"ru":22,"s":"12.5u"},{"t":35,"ru":22.5,"s":"12.5u"},{"t":40,"ru":23,"s":"12.5u"},{"t":45,"ru":24,"s":"12.5u"},{"t":50,"ru":24.5,"s":"12.5u"},{"t":55,"ru":24.5,"s":"12.5u"},{"t":60,"ru":25,"s":"12.5u"},{"t":65,"ru":25.5,"s":"12.5u"},{"t":70,"ru":26.5,"s":"12.5u"},{"t":75,"ru":26.5,"s":"12.5u"},{"t":80,"ru":27,"s":"12.5u"},{"t":85,"ru":27.5,"s":"12.5u"},{"t":88,"ru":29,"s":"12.5u"},{"t":92,"ru":33,"s":"12.5u"},{"t":95,"ru":36,"s":"12.5u"},{"t":98,"ru":38.5,"s":"12.5u"},{"t":100,"ru":39.5,"s":"12.5u"},{"t":120,"ru":39.5,"s":"12.5u"},{"t":125,"ru":40,"s":"12.5u"},{"t":130,"ru":39.5,"s":"12.5u"},{"t":140,"ru":39.5,"s":"12.5u"},{"t":145,"ru":40,"s":"12.5u"},{"t":150,"ru":39.5,"s":"12.5u"},{"t":155,"ru":40,"s":"12.5u"},{"t":160,"ru":40.5,"s":"12.5u"},{"t":164,"ru":40.5,"s":"12.5u"},{"t":168,"ru":39.5,"s":"12.5u"},{"t":172,"ru":40,"s":"12.5u"},{"t":175,"ru":39.5,"s":"12.5u"},{"t":178,"ru":40.5,"s":"12.5u"},{"t":180,"ru":36,"s":"12.5u"},{"t":183,"ru":33,"s":"12.5u"},{"t":186,"ru":31,"s":"12.5u"},{"t":189,"ru":29,"s":"12.5u"},{"t":192,"ru":27.5,"s":"12.5u"},{"t":196,"ru":26.5,"s":"12.5u"},{"t":200,"ru":26,"s":"12.5u"},{"t":205,"ru":25,"s":"12.5u"},{"t":210,"ru":24,"s":"12.5u"},{"t":215,"ru":23.5,"s":"12.5u"},{"t":220,"ru":23,"s":"12.5u"},{"t":225,"ru":22.5,"s":"12.5u"},{"t":230,"ru":22,"s":"12.5u"},{"t":235,"ru":21,"s":"12.5u"},{"t":240,"ru":20.5,"s":"12.5u"},{"t":245,"ru":20,"s":"12.5u"},{"t":260,"ru":20,"s":"12.5u"},{"t":265,"ru":19.5,"s":"12.5u"},{"t":275,"ru":19.5,"s":"12.5u"},{"t":280,"ru":19,"s":"12.5u"},{"t":285,"ru":19,"s":"12.5u"},{"t":290,"ru":18.5,"s":"12.5u"},{"t":292,"ru":19.5,"s":"12.5u"},{"t":294,"ru":18,"s":"12.5u"},{"t":297,"ru":18,"s":"12.5u"},{"t":300,"ru":17.5,"s":"12.5u"},{"t":305,"ru":17.5,"s":"12.5u"},{"t":310,"ru":17,"s":"12.5u"},{"t":315,"ru":17.5,"s":"12.5u"},{"t":320,"ru":17,"s":"12.5u"},{"t":325,"ru":16.5,"s":"12.5u"},{"t":330,"ru":17,"s":"12.5u"},{"t":335,"ru":16.5,"s":"12.5u"},{"t":340,"ru":16.5,"s":"12.5u"},{"t":345,"ru":16,"s":"12.5u"},{"t":350,"ru":16.5,"s":"12.5u"},{"t":355,"ru":16,"s":"12.5u"},{"t":360,"ru":16,"s":"12.5u"},{"t":365,"ru":15.5,"s":"12.5u"},{"t":375,"ru":15.5,"s":"12.5u"},{"t":380,"ru":15,"s":"12.5u"},{"t":385,"ru":15,"s":"12.5u"},{"t":390,"ru":14.5,"s":"12.5u"},{"t":420,"ru":14.5,"s":"12.5u"},{"t":425,"ru":14,"s":"12.5u"},{"t":430,"ru":14.5,"s":"12.5u"},{"t":435,"ru":14.5,"s":"12.5u"},{"t":440,"ru":14,"s":"12.5u"},{"t":450,"ru":14,"s":"12.5u"},{"t":455,"ru":13.5,"s":"12.5u"},{"t":465,"ru":13.5,"s":"12.5u"},{"t":470,"ru":13,"s":"12.5u"},{"t":478,"ru":13,"s":"12.5u"},

{"t":-21,"ru":0,"s":"25uM"},{"t":0,"ru":0,"s":"25uM"},{"t":2,"ru":8,"s":"25uM"},{"t":3,"ru":17,"s":"25uM"},{"t":5,"ru":17.5,"s":"25uM"},{"t":7,"ru":17,"s":"25uM"},{"t":9,"ru":18,"s":"25uM"},{"t":10,"ru":21,"s":"25uM"},{"t":12,"ru":25,"s":"25uM"},{"t":15,"ru":28,"s":"25uM"},{"t":18,"ru":30,"s":"25uM"},{"t":20,"ru":31,"s":"25uM"},{"t":25,"ru":34,"s":"25uM"},{"t":30,"ru":36,"s":"25uM"},{"t":35,"ru":38,"s":"25uM"},{"t":40,"ru":39.5,"s":"25uM"},{"t":45,"ru":40.5,"s":"25uM"},{"t":50,"ru":41.5,"s":"25uM"},{"t":55,"ru":42,"s":"25uM"},{"t":60,"ru":43,"s":"25uM"},{"t":65,"ru":44,"s":"25uM"},{"t":70,"ru":45,"s":"25uM"},{"t":75,"ru":46,"s":"25uM"},{"t":80,"ru":47,"s":"25uM"},{"t":85,"ru":48,"s":"25uM"},{"t":88,"ru":50,"s":"25uM"},{"t":92,"ru":54,"s":"25uM"},{"t":95,"ru":57,"s":"25uM"},{"t":98,"ru":58.5,"s":"25uM"},{"t":100,"ru":58.5,"s":"25uM"},{"t":103,"ru":59,"s":"25uM"},{"t":106,"ru":61,"s":"25uM"},{"t":109,"ru":60,"s":"25uM"},{"t":112,"ru":58.5,"s":"25uM"},{"t":116,"ru":58,"s":"25uM"},{"t":120,"ru":58.5,"s":"25uM"},{"t":124,"ru":59,"s":"25uM"},{"t":128,"ru":58.5,"s":"25uM"},{"t":132,"ru":58.5,"s":"25uM"},{"t":136,"ru":59,"s":"25uM"},{"t":140,"ru":58.5,"s":"25uM"},{"t":144,"ru":58.5,"s":"25uM"},{"t":148,"ru":60,"s":"25uM"},{"t":152,"ru":60.5,"s":"25uM"},{"t":156,"ru":62,"s":"25uM"},{"t":160,"ru":63.5,"s":"25uM"},{"t":163,"ru":65,"s":"25uM"},{"t":166,"ru":66.5,"s":"25uM"},{"t":168,"ru":65.5,"s":"25uM"},{"t":171,"ru":64,"s":"25uM"},{"t":174,"ru":62,"s":"25uM"},{"t":177,"ru":60.5,"s":"25uM"},{"t":179,"ru":60,"s":"25uM"},{"t":180,"ru":55,"s":"25uM"},{"t":183,"ru":50,"s":"25uM"},{"t":186,"ru":44,"s":"25uM"},{"t":189,"ru":39.5,"s":"25uM"},{"t":192,"ru":36,"s":"25uM"},{"t":195,"ru":34,"s":"25uM"},{"t":199,"ru":32.5,"s":"25uM"},{"t":203,"ru":31.5,"s":"25uM"},{"t":208,"ru":30.5,"s":"25uM"},{"t":212,"ru":29.5,"s":"25uM"},{"t":216,"ru":29,"s":"25uM"},{"t":220,"ru":28.5,"s":"25uM"},{"t":225,"ru":28,"s":"25uM"},{"t":230,"ru":27.5,"s":"25uM"},{"t":235,"ru":27,"s":"25uM"},{"t":240,"ru":26.5,"s":"25uM"},{"t":245,"ru":26,"s":"25uM"},{"t":250,"ru":25.5,"s":"25uM"},{"t":255,"ru":25,"s":"25uM"},{"t":260,"ru":25,"s":"25uM"},{"t":265,"ru":24.5,"s":"25uM"},{"t":275,"ru":24.5,"s":"25uM"},{"t":280,"ru":24,"s":"25uM"},{"t":285,"ru":24.5,"s":"25uM"},{"t":290,"ru":23.5,"s":"25uM"},{"t":291,"ru":29,"s":"25uM"},{"t":292,"ru":25,"s":"25uM"},{"t":293,"ru":18,"s":"25uM"},{"t":294,"ru":23,"s":"25uM"},{"t":297,"ru":23.5,"s":"25uM"},{"t":300,"ru":23,"s":"25uM"},{"t":305,"ru":22.5,"s":"25uM"},{"t":310,"ru":22,"s":"25uM"},{"t":315,"ru":21.5,"s":"25uM"},{"t":320,"ru":21,"s":"25uM"},{"t":325,"ru":21.5,"s":"25uM"},{"t":330,"ru":21,"s":"25uM"},{"t":340,"ru":21,"s":"25uM"},{"t":345,"ru":21.5,"s":"25uM"},{"t":350,"ru":21,"s":"25uM"},{"t":355,"ru":20.5,"s":"25uM"},{"t":360,"ru":21,"s":"25uM"},{"t":365,"ru":20.5,"s":"25uM"},{"t":370,"ru":20,"s":"25uM"},{"t":375,"ru":19.5,"s":"25uM"},{"t":380,"ru":19,"s":"25uM"},{"t":385,"ru":19,"s":"25uM"},{"t":390,"ru":18.5,"s":"25uM"},{"t":410,"ru":18.5,"s":"25uM"},{"t":415,"ru":18,"s":"25uM"},{"t":420,"ru":18,"s":"25uM"},{"t":425,"ru":18.5,"s":"25uM"},{"t":430,"ru":18,"s":"25uM"},{"t":435,"ru":18,"s":"25uM"},{"t":440,"ru":17.5,"s":"25uM"},{"t":455,"ru":17.5,"s":"25uM"},{"t":460,"ru":17,"s":"25uM"},{"t":465,"ru":17,"s":"25uM"},{"t":470,"ru":16.5,"s":"25uM"},{"t":475,"ru":16,"s":"25uM"},{"t":478,"ru":16,"s":"25uM"},

{"t":-21,"ru":0,"s":"Buffer"},{"t":-16,"ru":-0.5,"s":"Buffer"},{"t":-2,"ru":-0.5,"s":"Buffer"},{"t":0,"ru":0,"s":"Buffer"},{"t":2,"ru":1.5,"s":"Buffer"},{"t":4,"ru":1,"s":"Buffer"},{"t":6,"ru":-0.5,"s":"Buffer"},{"t":8,"ru":0,"s":"Buffer"},{"t":10,"ru":1,"s":"Buffer"},{"t":13,"ru":0.5,"s":"Buffer"},{"t":16,"ru":0,"s":"Buffer"},{"t":30,"ru":0,"s":"Buffer"},{"t":35,"ru":0.5,"s":"Buffer"},{"t":40,"ru":0.5,"s":"Buffer"},{"t":45,"ru":0,"s":"Buffer"},{"t":70,"ru":0,"s":"Buffer"},{"t":75,"ru":0.5,"s":"Buffer"},{"t":80,"ru":0.5,"s":"Buffer"},{"t":85,"ru":0,"s":"Buffer"},{"t":90,"ru":1,"s":"Buffer"},{"t":95,"ru":1,"s":"Buffer"},{"t":100,"ru":0.5,"s":"Buffer"},{"t":115,"ru":0.5,"s":"Buffer"},{"t":120,"ru":1,"s":"Buffer"},{"t":125,"ru":1.5,"s":"Buffer"},{"t":130,"ru":0.5,"s":"Buffer"},{"t":135,"ru":1,"s":"Buffer"},{"t":140,"ru":1,"s":"Buffer"},{"t":145,"ru":1.5,"s":"Buffer"},{"t":150,"ru":1,"s":"Buffer"},{"t":155,"ru":1.5,"s":"Buffer"},{"t":160,"ru":1.5,"s":"Buffer"},{"t":165,"ru":2,"s":"Buffer"},{"t":168,"ru":1.5,"s":"Buffer"},{"t":172,"ru":1,"s":"Buffer"},{"t":175,"ru":0.5,"s":"Buffer"},{"t":177,"ru":-1,"s":"Buffer"},{"t":178,"ru":-2.5,"s":"Buffer"},{"t":180,"ru":0,"s":"Buffer"},{"t":183,"ru":0.5,"s":"Buffer"},{"t":186,"ru":1,"s":"Buffer"},{"t":190,"ru":0.5,"s":"Buffer"},{"t":200,"ru":0.5,"s":"Buffer"},{"t":205,"ru":0,"s":"Buffer"},{"t":210,"ru":1,"s":"Buffer"},{"t":215,"ru":0.5,"s":"Buffer"},{"t":220,"ru":1,"s":"Buffer"},{"t":225,"ru":0.5,"s":"Buffer"},{"t":260,"ru":0.5,"s":"Buffer"},{"t":265,"ru":1,"s":"Buffer"},{"t":270,"ru":0.5,"s":"Buffer"},{"t":275,"ru":0.5,"s":"Buffer"},{"t":280,"ru":1,"s":"Buffer"},{"t":284,"ru":1,"s":"Buffer"},{"t":286,"ru":0,"s":"Buffer"},{"t":288,"ru":1,"s":"Buffer"},{"t":290,"ru":-0.5,"s":"Buffer"},{"t":291,"ru":-3.5,"s":"Buffer"},{"t":292,"ru":1.5,"s":"Buffer"},{"t":294,"ru":0,"s":"Buffer"},{"t":297,"ru":0,"s":"Buffer"},{"t":300,"ru":-0.5,"s":"Buffer"},{"t":305,"ru":0,"s":"Buffer"},{"t":310,"ru":0,"s":"Buffer"},{"t":315,"ru":0.5,"s":"Buffer"},{"t":320,"ru":0.5,"s":"Buffer"},{"t":325,"ru":1,"s":"Buffer"},{"t":330,"ru":1,"s":"Buffer"},{"t":335,"ru":0.5,"s":"Buffer"},{"t":340,"ru":1,"s":"Buffer"},{"t":345,"ru":0.5,"s":"Buffer"},{"t":350,"ru":0.5,"s":"Buffer"},{"t":355,"ru":0,"s":"Buffer"},{"t":360,"ru":0,"s":"Buffer"},{"t":365,"ru":0.5,"s":"Buffer"},{"t":370,"ru":0.5,"s":"Buffer"},{"t":375,"ru":0,"s":"Buffer"},{"t":380,"ru":0.5,"s":"Buffer"},{"t":385,"ru":0,"s":"Buffer"},{"t":395,"ru":0,"s":"Buffer"},{"t":400,"ru":0.5,"s":"Buffer"},{"t":405,"ru":0,"s":"Buffer"},{"t":410,"ru":0.5,"s":"Buffer"},{"t":420,"ru":0.5,"s":"Buffer"},{"t":425,"ru":1,"s":"Buffer"},{"t":440,"ru":1,"s":"Buffer"},{"t":445,"ru":0.5,"s":"Buffer"},{"t":450,"ru":0.5,"s":"Buffer"},{"t":455,"ru":1,"s":"Buffer"},{"t":460,"ru":0.5,"s":"Buffer"},{"t":470,"ru":0.5,"s":"Buffer"},{"t":475,"ru":1,"s":"Buffer"},{"t":478,"ru":1.5,"s":"Buffer"}
],
"c11": [
{"t":-25,"ru":0,"s":"3.125uM"},{"t":-23,"ru":0,"s":"3.125uM"},{"t":-21,"ru":1,"s":"3.125uM"},{"t":-20,"ru":2,"s":"3.125uM"},{"t":-18,"ru":3,"s":"3.125uM"},{"t":-16,"ru":4,"s":"3.125uM"},{"t":-14,"ru":5.5,"s":"3.125uM"},{"t":-12,"ru":7,"s":"3.125uM"},{"t":-10,"ru":8,"s":"3.125uM"},{"t":-8,"ru":9,"s":"3.125uM"},{"t":-6,"ru":9.5,"s":"3.125uM"},{"t":-3,"ru":10,"s":"3.125uM"},{"t":0,"ru":10.5,"s":"3.125uM"},{"t":5,"ru":11,"s":"3.125uM"},{"t":10,"ru":11.5,"s":"3.125uM"},{"t":20,"ru":11.5,"s":"3.125uM"},{"t":25,"ru":12,"s":"3.125uM"},{"t":30,"ru":12,"s":"3.125uM"},{"t":35,"ru":12.5,"s":"3.125uM"},{"t":45,"ru":12.5,"s":"3.125uM"},{"t":50,"ru":13,"s":"3.125uM"},{"t":55,"ru":14,"s":"3.125uM"},{"t":60,"ru":13.5,"s":"3.125uM"},{"t":65,"ru":14,"s":"3.125uM"},{"t":70,"ru":14,"s":"3.125uM"},{"t":75,"ru":14.5,"s":"3.125uM"},{"t":80,"ru":15,"s":"3.125uM"},{"t":85,"ru":15,"s":"3.125uM"},{"t":90,"ru":14.5,"s":"3.125uM"},{"t":95,"ru":15,"s":"3.125uM"},{"t":100,"ru":14.5,"s":"3.125uM"},{"t":115,"ru":14.5,"s":"3.125uM"},{"t":120,"ru":14,"s":"3.125uM"},{"t":125,"ru":14.5,"s":"3.125uM"},{"t":130,"ru":14.5,"s":"3.125uM"},{"t":135,"ru":14,"s":"3.125uM"},{"t":140,"ru":14,"s":"3.125uM"},{"t":145,"ru":13.5,"s":"3.125uM"},{"t":155,"ru":13.5,"s":"3.125uM"},{"t":158,"ru":14,"s":"3.125uM"},{"t":160,"ru":12,"s":"3.125uM"},{"t":163,"ru":10.5,"s":"3.125uM"},{"t":166,"ru":9.5,"s":"3.125uM"},{"t":170,"ru":8.5,"s":"3.125uM"},{"t":175,"ru":8,"s":"3.125uM"},{"t":190,"ru":8,"s":"3.125uM"},{"t":195,"ru":7.5,"s":"3.125uM"},{"t":210,"ru":7.5,"s":"3.125uM"},{"t":215,"ru":7,"s":"3.125uM"},{"t":225,"ru":7,"s":"3.125uM"},{"t":230,"ru":6.5,"s":"3.125uM"},{"t":235,"ru":6.5,"s":"3.125uM"},{"t":240,"ru":6,"s":"3.125uM"},{"t":260,"ru":6,"s":"3.125uM"},{"t":265,"ru":6.5,"s":"3.125uM"},{"t":268,"ru":6,"s":"3.125uM"},{"t":270,"ru":8,"s":"3.125uM"},{"t":271,"ru":4.5,"s":"3.125uM"},{"t":272,"ru":7,"s":"3.125uM"},{"t":275,"ru":6.5,"s":"3.125uM"},{"t":280,"ru":7,"s":"3.125uM"},{"t":285,"ru":6.5,"s":"3.125uM"},{"t":290,"ru":6.5,"s":"3.125uM"},{"t":295,"ru":6,"s":"3.125uM"},{"t":310,"ru":6,"s":"3.125uM"},{"t":315,"ru":5.5,"s":"3.125uM"},{"t":320,"ru":5.5,"s":"3.125uM"},{"t":325,"ru":6,"s":"3.125uM"},{"t":330,"ru":6,"s":"3.125uM"},{"t":335,"ru":5.5,"s":"3.125uM"},{"t":360,"ru":5.5,"s":"3.125uM"},{"t":365,"ru":6,"s":"3.125uM"},{"t":390,"ru":6,"s":"3.125uM"},{"t":395,"ru":5.5,"s":"3.125uM"},{"t":405,"ru":5.5,"s":"3.125uM"},{"t":410,"ru":6,"s":"3.125uM"},{"t":415,"ru":6.5,"s":"3.125uM"},{"t":420,"ru":7,"s":"3.125uM"},{"t":425,"ru":7,"s":"3.125uM"},{"t":430,"ru":6.5,"s":"3.125uM"},{"t":435,"ru":6.5,"s":"3.125uM"},{"t":440,"ru":6,"s":"3.125uM"},{"t":445,"ru":5.5,"s":"3.125uM"},{"t":455,"ru":5.5,"s":"3.125uM"},{"t":458,"ru":5,"s":"3.125uM"},

{"t":-25,"ru":0.5,"s":"6.25uM"},{"t":-23,"ru":-0.5,"s":"6.25uM"},{"t":-22,"ru":-1,"s":"6.25uM"},{"t":-21,"ru":1,"s":"6.25uM"},{"t":-20,"ru":3,"s":"6.25uM"},{"t":-19,"ru":6,"s":"6.25uM"},{"t":-18,"ru":8,"s":"6.25uM"},{"t":-16,"ru":9,"s":"6.25uM"},{"t":-14,"ru":9.5,"s":"6.25uM"},{"t":-13,"ru":11,"s":"6.25uM"},{"t":-12,"ru":15,"s":"6.25uM"},{"t":-10,"ru":15.5,"s":"6.25uM"},{"t":-8,"ru":16,"s":"6.25uM"},{"t":-6,"ru":17.5,"s":"6.25uM"},{"t":-4,"ru":18.5,"s":"6.25uM"},{"t":0,"ru":19,"s":"6.25uM"},{"t":5,"ru":19.5,"s":"6.25uM"},{"t":10,"ru":20,"s":"6.25uM"},{"t":15,"ru":19.5,"s":"6.25uM"},{"t":20,"ru":19.5,"s":"6.25uM"},{"t":25,"ru":20,"s":"6.25uM"},{"t":30,"ru":20,"s":"6.25uM"},{"t":35,"ru":20.5,"s":"6.25uM"},{"t":45,"ru":20.5,"s":"6.25uM"},{"t":50,"ru":21,"s":"6.25uM"},{"t":55,"ru":21,"s":"6.25uM"},{"t":60,"ru":21.5,"s":"6.25uM"},{"t":65,"ru":22,"s":"6.25uM"},{"t":68,"ru":23,"s":"6.25uM"},{"t":72,"ru":24.5,"s":"6.25uM"},{"t":75,"ru":25,"s":"6.25uM"},{"t":80,"ru":26,"s":"6.25uM"},{"t":85,"ru":26,"s":"6.25uM"},{"t":90,"ru":25.5,"s":"6.25uM"},{"t":100,"ru":25.5,"s":"6.25uM"},{"t":105,"ru":25,"s":"6.25uM"},{"t":110,"ru":25,"s":"6.25uM"},{"t":115,"ru":24.5,"s":"6.25uM"},{"t":120,"ru":24,"s":"6.25uM"},{"t":125,"ru":24.5,"s":"6.25uM"},{"t":130,"ru":24,"s":"6.25uM"},{"t":135,"ru":24,"s":"6.25uM"},{"t":140,"ru":23.5,"s":"6.25uM"},{"t":145,"ru":23,"s":"6.25uM"},{"t":155,"ru":23,"s":"6.25uM"},{"t":158,"ru":23.5,"s":"6.25uM"},{"t":160,"ru":21,"s":"6.25uM"},{"t":162,"ru":18,"s":"6.25uM"},{"t":165,"ru":15,"s":"6.25uM"},{"t":170,"ru":13.5,"s":"6.25uM"},{"t":175,"ru":12.5,"s":"6.25uM"},{"t":180,"ru":12,"s":"6.25uM"},{"t":185,"ru":12,"s":"6.25uM"},{"t":190,"ru":11.5,"s":"6.25uM"},{"t":195,"ru":11.5,"s":"6.25uM"},{"t":200,"ru":11,"s":"6.25uM"},{"t":210,"ru":11,"s":"6.25uM"},{"t":215,"ru":10.5,"s":"6.25uM"},{"t":230,"ru":10.5,"s":"6.25uM"},{"t":235,"ru":10,"s":"6.25uM"},{"t":260,"ru":10,"s":"6.25uM"},{"t":265,"ru":9.5,"s":"6.25uM"},{"t":268,"ru":9.5,"s":"6.25uM"},{"t":270,"ru":13.5,"s":"6.25uM"},{"t":271,"ru":7,"s":"6.25uM"},{"t":272,"ru":10.5,"s":"6.25uM"},{"t":275,"ru":10.5,"s":"6.25uM"},{"t":280,"ru":10,"s":"6.25uM"},{"t":305,"ru":10,"s":"6.25uM"},{"t":310,"ru":9.5,"s":"6.25uM"},{"t":330,"ru":9.5,"s":"6.25uM"},{"t":335,"ru":9,"s":"6.25uM"},{"t":355,"ru":9,"s":"6.25uM"},{"t":360,"ru":9.5,"s":"6.25uM"},{"t":385,"ru":9.5,"s":"6.25uM"},{"t":390,"ru":9,"s":"6.25uM"},{"t":395,"ru":8,"s":"6.25uM"},{"t":400,"ru":9,"s":"6.25uM"},{"t":405,"ru":8.5,"s":"6.25uM"},{"t":410,"ru":8.5,"s":"6.25uM"},{"t":415,"ru":9,"s":"6.25uM"},{"t":420,"ru":9.5,"s":"6.25uM"},{"t":425,"ru":9,"s":"6.25uM"},{"t":435,"ru":9,"s":"6.25uM"},{"t":440,"ru":8.5,"s":"6.25uM"},{"t":455,"ru":8.5,"s":"6.25uM"},{"t":458,"ru":8,"s":"6.25uM"},

{"t":-25,"ru":0,"s":"12.5uM"},{"t":-23,"ru":-1,"s":"12.5uM"},{"t":-22,"ru":-2,"s":"12.5uM"},{"t":-21,"ru":2,"s":"12.5uM"},{"t":-20,"ru":8,"s":"12.5uM"},{"t":-19,"ru":16,"s":"12.5uM"},{"t":-18,"ru":19,"s":"12.5uM"},{"t":-16,"ru":21,"s":"12.5uM"},{"t":-14,"ru":24,"s":"12.5uM"},{"t":-12,"ru":28,"s":"12.5uM"},{"t":-10,"ru":30,"s":"12.5uM"},{"t":-8,"ru":31.5,"s":"12.5uM"},{"t":-5,"ru":32.5,"s":"12.5uM"},{"t":-2,"ru":33,"s":"12.5uM"},{"t":0,"ru":33,"s":"12.5uM"},{"t":5,"ru":34,"s":"12.5uM"},{"t":10,"ru":35,"s":"12.5uM"},{"t":15,"ru":36,"s":"12.5uM"},{"t":20,"ru":36.5,"s":"12.5uM"},{"t":25,"ru":36,"s":"12.5uM"},{"t":28,"ru":37.5,"s":"12.5uM"},{"t":30,"ru":38,"s":"12.5uM"},{"t":35,"ru":37,"s":"12.5uM"},{"t":40,"ru":37.5,"s":"12.5uM"},{"t":45,"ru":38.5,"s":"12.5uM"},{"t":50,"ru":40,"s":"12.5uM"},{"t":55,"ru":39.5,"s":"12.5uM"},{"t":60,"ru":39.5,"s":"12.5uM"},{"t":65,"ru":40.5,"s":"12.5uM"},{"t":68,"ru":42,"s":"12.5uM"},{"t":72,"ru":45,"s":"12.5uM"},{"t":75,"ru":48,"s":"12.5uM"},{"t":78,"ru":50.5,"s":"12.5uM"},{"t":80,"ru":51,"s":"12.5uM"},{"t":85,"ru":51.5,"s":"12.5uM"},{"t":95,"ru":51.5,"s":"12.5uM"},{"t":100,"ru":51,"s":"12.5uM"},{"t":105,"ru":50.5,"s":"12.5uM"},{"t":110,"ru":50,"s":"12.5uM"},{"t":115,"ru":49.5,"s":"12.5uM"},{"t":120,"ru":49,"s":"12.5uM"},{"t":125,"ru":49,"s":"12.5uM"},{"t":130,"ru":48.5,"s":"12.5uM"},{"t":135,"ru":48,"s":"12.5uM"},{"t":140,"ru":47.5,"s":"12.5uM"},{"t":145,"ru":47,"s":"12.5uM"},{"t":150,"ru":46.5,"s":"12.5uM"},{"t":155,"ru":46.5,"s":"12.5uM"},{"t":158,"ru":45.5,"s":"12.5uM"},{"t":160,"ru":40,"s":"12.5uM"},{"t":161,"ru":36,"s":"12.5uM"},{"t":163,"ru":32,"s":"12.5uM"},{"t":166,"ru":28,"s":"12.5uM"},{"t":170,"ru":25,"s":"12.5uM"},{"t":175,"ru":23,"s":"12.5uM"},{"t":180,"ru":22,"s":"12.5uM"},{"t":185,"ru":21,"s":"12.5uM"},{"t":190,"ru":20.5,"s":"12.5uM"},{"t":195,"ru":20,"s":"12.5uM"},{"t":200,"ru":20,"s":"12.5uM"},{"t":205,"ru":19.5,"s":"12.5uM"},{"t":210,"ru":19.5,"s":"12.5uM"},{"t":215,"ru":19,"s":"12.5uM"},{"t":225,"ru":19,"s":"12.5uM"},{"t":230,"ru":18.5,"s":"12.5uM"},{"t":235,"ru":18.5,"s":"12.5uM"},{"t":240,"ru":18,"s":"12.5uM"},{"t":245,"ru":17.5,"s":"12.5uM"},{"t":250,"ru":17.5,"s":"12.5uM"},{"t":255,"ru":17,"s":"12.5uM"},{"t":260,"ru":16.5,"s":"12.5uM"},{"t":263,"ru":17.5,"s":"12.5uM"},{"t":266,"ru":18.5,"s":"12.5uM"},{"t":269,"ru":19.5,"s":"12.5uM"},{"t":270,"ru":22,"s":"12.5uM"},{"t":271,"ru":16,"s":"12.5uM"},{"t":272,"ru":15,"s":"12.5uM"},{"t":274,"ru":17.5,"s":"12.5uM"},{"t":277,"ru":17.5,"s":"12.5uM"},{"t":280,"ru":17,"s":"12.5uM"},{"t":285,"ru":16.5,"s":"12.5uM"},{"t":290,"ru":16.5,"s":"12.5uM"},{"t":295,"ru":16,"s":"12.5uM"},{"t":320,"ru":16,"s":"12.5uM"},{"t":325,"ru":15.5,"s":"12.5uM"},{"t":335,"ru":15.5,"s":"12.5uM"},{"t":340,"ru":15,"s":"12.5uM"},{"t":355,"ru":15,"s":"12.5uM"},{"t":360,"ru":14.5,"s":"12.5uM"},{"t":375,"ru":14.5,"s":"12.5uM"},{"t":380,"ru":15,"s":"12.5uM"},{"t":385,"ru":14.5,"s":"12.5uM"},{"t":395,"ru":14.5,"s":"12.5uM"},{"t":400,"ru":14,"s":"12.5uM"},{"t":425,"ru":14,"s":"12.5uM"},{"t":430,"ru":13.5,"s":"12.5uM"},{"t":435,"ru":13.5,"s":"12.5uM"},{"t":440,"ru":14,"s":"12.5uM"},{"t":445,"ru":13.5,"s":"12.5uM"},{"t":450,"ru":13,"s":"12.5uM"},{"t":455,"ru":13,"s":"12.5uM"},{"t":458,"ru":12.5,"s":"12.5uM"},

{"t":-25,"ru":0,"s":"25uM"},{"t":-23,"ru":0,"s":"25uM"},{"t":-22,"ru":5,"s":"25uM"},{"t":-21,"ru":12,"s":"25uM"},{"t":-20,"ru":22,"s":"25uM"},{"t":-19,"ru":30,"s":"25uM"},{"t":-17,"ru":33,"s":"25uM"},{"t":-15,"ru":36,"s":"25uM"},{"t":-13,"ru":42,"s":"25uM"},{"t":-11,"ru":48,"s":"25uM"},{"t":-9,"ru":54,"s":"25uM"},{"t":-7,"ru":58,"s":"25uM"},{"t":-5,"ru":61,"s":"25uM"},{"t":-3,"ru":62.5,"s":"25uM"},{"t":0,"ru":64.5,"s":"25uM"},{"t":3,"ru":66,"s":"25uM"},{"t":6,"ru":67.5,"s":"25uM"},{"t":10,"ru":69,"s":"25uM"},{"t":13,"ru":69.5,"s":"25uM"},{"t":16,"ru":71,"s":"25uM"},{"t":20,"ru":72.5,"s":"25uM"},{"t":25,"ru":74.5,"s":"25uM"},{"t":30,"ru":76.5,"s":"25uM"},{"t":35,"ru":78,"s":"25uM"},{"t":40,"ru":79.5,"s":"25uM"},{"t":45,"ru":81,"s":"25uM"},{"t":50,"ru":82,"s":"25uM"},{"t":55,"ru":83.5,"s":"25uM"},{"t":60,"ru":84.5,"s":"25uM"},{"t":65,"ru":85,"s":"25uM"},{"t":68,"ru":86.5,"s":"25uM"},{"t":72,"ru":89,"s":"25uM"},{"t":75,"ru":90,"s":"25uM"},{"t":78,"ru":91,"s":"25uM"},{"t":80,"ru":92.5,"s":"25uM"},{"t":83,"ru":94,"s":"25uM"},{"t":86,"ru":93.5,"s":"25uM"},{"t":90,"ru":91.5,"s":"25uM"},{"t":95,"ru":90.5,"s":"25uM"},{"t":100,"ru":89.5,"s":"25uM"},{"t":105,"ru":89.5,"s":"25uM"},{"t":110,"ru":90,"s":"25uM"},{"t":115,"ru":90.5,"s":"25uM"},{"t":120,"ru":91,"s":"25uM"},{"t":125,"ru":91,"s":"25uM"},{"t":130,"ru":91.5,"s":"25uM"},{"t":135,"ru":92,"s":"25uM"},{"t":140,"ru":91.5,"s":"25uM"},{"t":145,"ru":91.5,"s":"25uM"},{"t":150,"ru":91,"s":"25uM"},{"t":155,"ru":91,"s":"25uM"},{"t":157,"ru":91.5,"s":"25uM"},{"t":158,"ru":92,"s":"25uM"},{"t":159,"ru":70,"s":"25uM"},{"t":160,"ru":60,"s":"25uM"},{"t":161,"ru":52,"s":"25uM"},{"t":163,"ru":45,"s":"25uM"},{"t":166,"ru":40,"s":"25uM"},{"t":170,"ru":36,"s":"25uM"},{"t":175,"ru":32,"s":"25uM"},{"t":180,"ru":30,"s":"25uM"},{"t":185,"ru":28.5,"s":"25uM"},{"t":190,"ru":27.5,"s":"25uM"},{"t":195,"ru":27,"s":"25uM"},{"t":200,"ru":26,"s":"25uM"},{"t":205,"ru":25.5,"s":"25uM"},{"t":210,"ru":25.5,"s":"25uM"},{"t":215,"ru":25,"s":"25uM"},{"t":220,"ru":25,"s":"25uM"},{"t":225,"ru":24.5,"s":"25uM"},{"t":230,"ru":24,"s":"25uM"},{"t":235,"ru":24,"s":"25uM"},{"t":240,"ru":23.5,"s":"25uM"},{"t":245,"ru":23,"s":"25uM"},{"t":250,"ru":22.5,"s":"25uM"},{"t":255,"ru":22,"s":"25uM"},{"t":260,"ru":21.5,"s":"25uM"},{"t":264,"ru":20.5,"s":"25uM"},{"t":267,"ru":19.5,"s":"25uM"},{"t":269,"ru":20.5,"s":"25uM"},{"t":270,"ru":28.5,"s":"25uM"},{"t":271,"ru":21,"s":"25uM"},{"t":272,"ru":22.5,"s":"25uM"},{"t":275,"ru":22,"s":"25uM"},{"t":280,"ru":21.5,"s":"25uM"},{"t":290,"ru":21.5,"s":"25uM"},{"t":295,"ru":21,"s":"25uM"},{"t":300,"ru":21,"s":"25uM"},{"t":305,"ru":20.5,"s":"25uM"},{"t":310,"ru":20.5,"s":"25uM"},{"t":315,"ru":20,"s":"25uM"},{"t":330,"ru":20,"s":"25uM"},{"t":335,"ru":19.5,"s":"25uM"},{"t":340,"ru":19.5,"s":"25uM"},{"t":345,"ru":19,"s":"25uM"},{"t":350,"ru":19,"s":"25uM"},{"t":355,"ru":18.5,"s":"25uM"},{"t":370,"ru":18.5,"s":"25uM"},{"t":375,"ru":18,"s":"25uM"},{"t":378,"ru":19,"s":"25uM"},{"t":381,"ru":18.5,"s":"25uM"},{"t":385,"ru":18,"s":"25uM"},{"t":395,"ru":18,"s":"25uM"},{"t":400,"ru":17.5,"s":"25uM"},{"t":420,"ru":17.5,"s":"25uM"},{"t":425,"ru":17,"s":"25uM"},{"t":430,"ru":17.5,"s":"25uM"},{"t":445,"ru":17.5,"s":"25uM"},{"t":450,"ru":17,"s":"25uM"},{"t":455,"ru":17,"s":"25uM"},{"t":458,"ru":16.5,"s":"25uM"},

{"t":-25,"ru":0,"s":"Buffer"},{"t":-23,"ru":-3,"s":"Buffer"},{"t":-22,"ru":-1.5,"s":"Buffer"},{"t":-21,"ru":-0.5,"s":"Buffer"},{"t":-18,"ru":0,"s":"Buffer"},{"t":-15,"ru":0,"s":"Buffer"},{"t":-12,"ru":-0.5,"s":"Buffer"},{"t":-10,"ru":-1.5,"s":"Buffer"},{"t":-7,"ru":-1,"s":"Buffer"},{"t":-5,"ru":-1.5,"s":"Buffer"},{"t":0,"ru":-1,"s":"Buffer"},{"t":5,"ru":-1.5,"s":"Buffer"},{"t":10,"ru":-1,"s":"Buffer"},{"t":15,"ru":-0.5,"s":"Buffer"},{"t":20,"ru":-1,"s":"Buffer"},{"t":25,"ru":-1,"s":"Buffer"},{"t":30,"ru":-0.5,"s":"Buffer"},{"t":35,"ru":-0.5,"s":"Buffer"},{"t":40,"ru":-1,"s":"Buffer"},{"t":45,"ru":-1.5,"s":"Buffer"},{"t":50,"ru":-1,"s":"Buffer"},{"t":55,"ru":0,"s":"Buffer"},{"t":60,"ru":-0.5,"s":"Buffer"},{"t":90,"ru":-0.5,"s":"Buffer"},{"t":95,"ru":0,"s":"Buffer"},{"t":100,"ru":0,"s":"Buffer"},{"t":105,"ru":0.5,"s":"Buffer"},{"t":110,"ru":0,"s":"Buffer"},{"t":115,"ru":-0.5,"s":"Buffer"},{"t":120,"ru":-0.5,"s":"Buffer"},{"t":125,"ru":-1,"s":"Buffer"},{"t":130,"ru":-0.5,"s":"Buffer"},{"t":135,"ru":-1,"s":"Buffer"},{"t":140,"ru":-1,"s":"Buffer"},{"t":145,"ru":-1.5,"s":"Buffer"},{"t":150,"ru":-1,"s":"Buffer"},{"t":155,"ru":-1,"s":"Buffer"},{"t":160,"ru":-1.5,"s":"Buffer"},{"t":165,"ru":-0.5,"s":"Buffer"},{"t":180,"ru":-0.5,"s":"Buffer"},{"t":185,"ru":0,"s":"Buffer"},{"t":190,"ru":0,"s":"Buffer"},{"t":195,"ru":-0.5,"s":"Buffer"},{"t":200,"ru":-0.5,"s":"Buffer"},{"t":205,"ru":0,"s":"Buffer"},{"t":220,"ru":0,"s":"Buffer"},{"t":225,"ru":0.5,"s":"Buffer"},{"t":230,"ru":0.5,"s":"Buffer"},{"t":235,"ru":0,"s":"Buffer"},{"t":255,"ru":0,"s":"Buffer"},{"t":260,"ru":-0.5,"s":"Buffer"},{"t":265,"ru":-0.5,"s":"Buffer"},{"t":268,"ru":0,"s":"Buffer"},{"t":269,"ru":-0.5,"s":"Buffer"},{"t":270,"ru":2.5,"s":"Buffer"},{"t":271,"ru":-3,"s":"Buffer"},{"t":272,"ru":0,"s":"Buffer"},{"t":275,"ru":0.5,"s":"Buffer"},{"t":280,"ru":0.5,"s":"Buffer"},{"t":285,"ru":0,"s":"Buffer"},{"t":305,"ru":0,"s":"Buffer"},{"t":310,"ru":-0.5,"s":"Buffer"},{"t":315,"ru":0,"s":"Buffer"},{"t":340,"ru":0,"s":"Buffer"},{"t":345,"ru":0.5,"s":"Buffer"},{"t":370,"ru":0.5,"s":"Buffer"},{"t":375,"ru":1,"s":"Buffer"},{"t":380,"ru":1.5,"s":"Buffer"},{"t":385,"ru":1.5,"s":"Buffer"},{"t":390,"ru":1,"s":"Buffer"},{"t":435,"ru":1,"s":"Buffer"},{"t":440,"ru":1.5,"s":"Buffer"},{"t":445,"ru":1.5,"s":"Buffer"},{"t":450,"ru":1,"s":"Buffer"},{"t":458,"ru":1,"s":"Buffer"}
]
},
"resolve": {"scale": {"color": "independent"}, "legend": {"color": "independent"}},
"spacing": 28.5,
"vconcat": [
 {
  "spacing": 53,
  "resolve": {"scale": {"color": "independent"}, "legend": {"color": "independent"}},
  "hconcat": [
   {
    "width": 514, "height": 345,
    "data": {"name": "c9"},
    "title": {"text": "Murine CXCL9", "offset": -38, "dx": -6},
    "mark": {"type": "line", "strokeWidth": 2, "clip": true},
    "encoding": {
      "x": {"field": "t", "type": "quantitative", "scale": {"domain": [-25, 500], "nice": false},
        "axis": {"title": "Time (Seconds)", "values": [-25,0,25,50,75,100,125,150,175,200,225,250,275,300,325,350,375,400,425,450,475,500]}},
      "y": {"field": "ru", "type": "quantitative", "scale": {"domain": [-5, 80], "nice": false, "zero": false},
        "axis": {"title": "RU", "values": [-5,0,5,10,15,20,25,30,35,40,45,50,55,60,65,70,75,80]}},
      "color": {"field": "s", "type": "nominal",
        "scale": {"domain": ["25uM","12.5uM","6.25uM","Buffer","3.125uM"], "range": ["#318f87","#e444e4","#2222df","#7d43e6","#68e03c"]},
        "legend": {"title": null, "orient": "none", "legendX": 346, "legendY": 40}}
    }
   },
   {
    "width": 515, "height": 344,
    "data": {"name": "c10"},
    "title": {"text": "Murine CXCL10", "offset": -38, "dx": 14},
    "mark": {"type": "line", "strokeWidth": 2, "clip": true},
    "encoding": {
      "x": {"field": "t", "type": "quantitative", "scale": {"domain": [-25, 500], "nice": false},
        "axis": {"title": "Time (Seconds)", "values": [-25,0,25,50,75,100,125,150,175,200,225,250,275,300,325,350,375,400,425,450,475,500]}},
      "y": {"field": "ru", "type": "quantitative", "scale": {"domain": [-5, 80], "nice": false, "zero": false},
        "axis": {"title": "RU", "values": [-5,0,5,10,15,20,25,30,35,40,45,50,55,60,65,70,75,80]}},
      "color": {"field": "s", "type": "nominal",
        "scale": {"domain": ["Buffer","25uM","12.5u","6.25","3.125uM"], "range": ["#7d43e6","#318f87","#e444e4","#2222df","#68e03c"]},
        "legend": {"title": null, "orient": "none", "legendX": 346, "legendY": 37}}
    }
   }
  ]
 },
 {
  "spacing": 0,
  "resolve": {"scale": {"color": "independent"}, "legend": {"color": "independent"}},
  "hconcat": [
   {"width": 222, "height": 10, "data": {"values": []}, "mark": "point"},
   {
    "width": 514, "height": 345,
    "data": {"name": "c11"},
    "title": {"text": "Murine CXCL11", "offset": -20.5, "dx": 8},
    "mark": {"type": "line", "strokeWidth": 2, "clip": true},
    "encoding": {
      "x": {"field": "t", "type": "quantitative", "scale": {"domain": [-25, 500], "nice": false},
        "axis": {"title": "Time (Seconds)", "titlePadding": 3, "values": [-25,0,25,50,75,100,125,150,175,200,225,250,275,300,325,350,375,400,425,450,475,500]}},
      "y": {"field": "ru", "type": "quantitative", "scale": {"domain": [-5, 100], "nice": false, "zero": false},
        "axis": {"title": "RU", "values": [-5,0,5,10,15,20,25,30,35,40,45,50,55,60,65,70,75,80,85,90,95,100]}},
      "color": {"field": "s", "type": "nominal",
        "scale": {"domain": ["25uM","12.5uM","6.25uM","Buffer","3.125uM"], "range": ["#318f87","#e444e4","#2222df","#7d43e6","#68e03c"]},
        "legend": null}
    }
   }
  ]
 }
]
}
